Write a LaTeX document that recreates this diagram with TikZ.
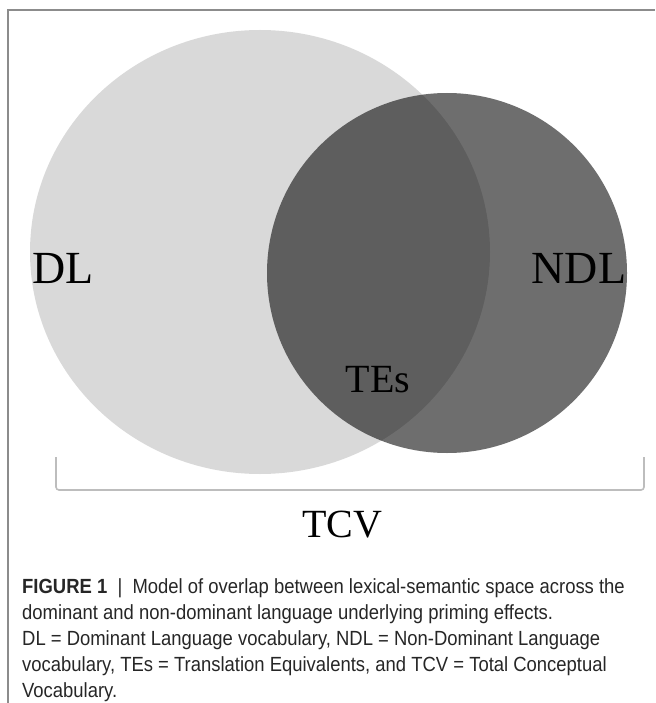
\documentclass[tikz,border=0pt]{standalone}
\usepackage{fontspec}
\setmainfont{Liberation Serif}
\newfontfamily\capfont[FakeStretch=0.9]{Liberation Sans}
\usetikzlibrary{positioning,shapes.geometric}
\definecolor{lightset}{HTML}{D9D9D9}
\definecolor{darkset}{HTML}{060606}
\definecolor{frame}{HTML}{8C8C8C}
\definecolor{brace}{HTML}{BDBDBD}
\definecolor{captext}{HTML}{262626}
\tikzset{
  lightcircle/.style={ellipse, fill=lightset, inner sep=0pt, minimum width=460pt, minimum height=444pt},
  darkcircle/.style={circle, fill=darkset, fill opacity=.58, inner sep=0pt, minimum size=360pt},
  setlabel/.style={font=\fontsize{40}{40}\selectfont, text=black, inner sep=0pt},
  biglabel/.style={setlabel, font=\fontsize{46}{46}\selectfont},
  framerule/.style={draw=frame, line width=1.4pt},
  bracerule/.style={draw=brace, line width=1.6pt, rounded corners=3pt},
  caption/.style={anchor=north west, align=left, inner sep=0pt, text=captext,
    font=\capfont\fontsize{20.5}{26}\selectfont}
}
\begin{document}
\begin{tikzpicture}[x=1pt,y=-1pt]
  \useasboundingbox (0,0) rectangle (655,703);
  \draw[framerule] (8,703) -- (8,10) -- (655,10);

  \node[lightcircle] (dl) at (260,252) {};
  \node[darkcircle] (ndl) at (447,273) {};

  \node[biglabel] (dllab) at (63,268) {DL};
  \node[biglabel] (ndllab) at (579,268) {NDL};
  \node[setlabel] (teslab) at (378,380) {TEs};

  \draw[bracerule] (56,457) -- (56,490) -- (644,490) -- (644,457);
  \node[setlabel] (tcv) at (342,525) {TCV};

  \node[caption] (cap) at (22,578) {\textbf{FIGURE 1}\enspace|\enspace Model of overlap between lexical-semantic space across the\\
    dominant and non-dominant language underlying priming effects.\\
    DL = Dominant Language vocabulary, NDL = Non-Dominant Language\\
    vocabulary, TEs = Translation Equivalents, and TCV = Total Conceptual\\
    Vocabulary.};
\end{tikzpicture}
\end{document}
